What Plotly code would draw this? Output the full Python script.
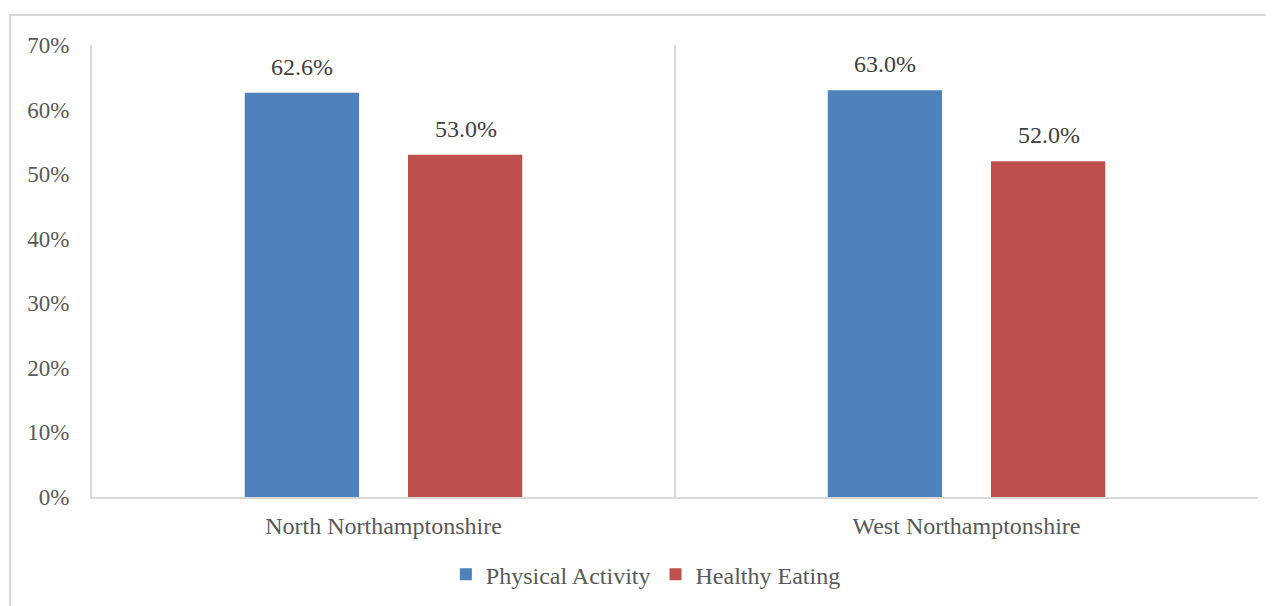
import plotly.graph_objects as go

categories = ["North Northamptonshire", "West Northamptonshire"]
physical_activity = [62.6, 63.0]
healthy_eating = [53.0, 52.0]
y_ticks = [0, 10, 20, 30, 40, 50, 60, 70]
y_tick_labels = ["0%", "10%", "20%", "30%", "40%", "50%", "60%", "70%"]

FONT = "Liberation Serif, Times New Roman, serif"
BAR_OFFSET_PX = 82  # half distance between bar centres within a group

fig = go.Figure()
fig.add_trace(go.Bar(
    name="Physical Activity", x=categories, y=physical_activity,
    marker=dict(color="#4f81bd", line=dict(width=0)),
))
fig.add_trace(go.Bar(
    name="Healthy Eating", x=categories, y=healthy_eating,
    marker=dict(color="#c0504d", line=dict(width=0)),
))

annotations = []
for series, shift in ((physical_activity, -BAR_OFFSET_PX), (healthy_eating, BAR_OFFSET_PX)):
    for cat, v in zip(categories, series):
        annotations.append(dict(
            x=cat, y=v, xref="x", yref="y", text=f"{v:.1f}%", showarrow=False,
            xshift=shift, yshift=26, yanchor="middle",
            font=dict(family=FONT, size=24, color="#404040"),
        ))

fig.update_layout(
    width=1274, height=606,
    margin=dict(l=84, r=24, t=37, b=117),
    paper_bgcolor="white", plot_bgcolor="white",
    barmode="group", bargap=0.44, bargroupgap=0.30,
    font=dict(family=FONT, size=24, color="#595959"),
    showlegend=True,
    legend=dict(orientation="h", x=0.475, xanchor="center", y=-0.172, yanchor="middle",
                font=dict(family=FONT, size=24, color="#595959"),
                itemwidth=30, tracegroupgap=0),
    annotations=annotations,
    shapes=[dict(type="rect", xref="paper", yref="paper",
                 x0=-0.0703, x1=1.03, y0=-0.3, y1=1.0664,
                 line=dict(color="#d9d9d9", width=2), layer="below")],
    xaxis=dict(
        type="category", range=[-0.5, 1.5],
        showgrid=True, gridcolor="#d9d9d9", gridwidth=2, tickson="boundaries",
        showline=True, linecolor="#d9d9d9", linewidth=2, mirror=False,
        ticks="", ticklabelstandoff=6,
        tickfont=dict(family=FONT, size=24, color="#595959"),
        zeroline=False,
    ),
    yaxis=dict(
        range=[0, 70], tickvals=y_ticks, ticktext=y_tick_labels,
        showgrid=False, zeroline=False,
        showline=True, linecolor="#d9d9d9", linewidth=2,
        ticks="", ticklabelstandoff=16,
        tickfont=dict(family=FONT, size=23, color="#595959"),
    ),
)

fig.write_html("out.html")
